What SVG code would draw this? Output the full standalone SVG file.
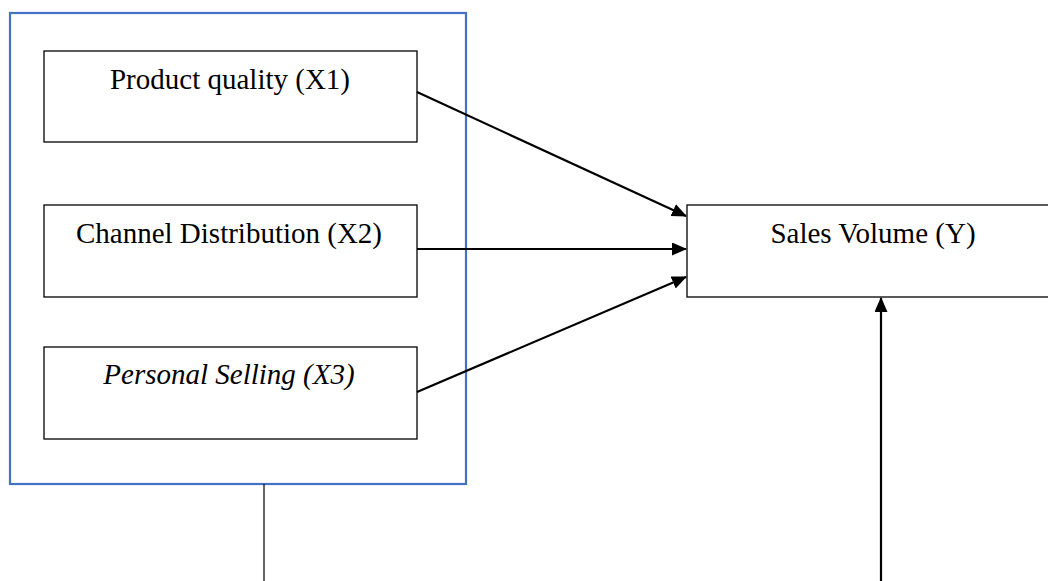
<svg xmlns="http://www.w3.org/2000/svg" width="1048" height="581" viewBox="0 0 1048 581">
<style>
.box{fill:#fff;stroke:#000;stroke-width:1.3}
.lbl{font-family:"Liberation Serif","Times New Roman",serif;font-size:29px;fill:#000;text-anchor:middle}
.con{stroke:#000;stroke-width:2.2;fill:none}
</style>
<defs>
<marker id="ah" viewBox="0 0 15 13" refX="14" refY="6.5" markerWidth="15" markerHeight="13" markerUnits="userSpaceOnUse" orient="auto">
<path d="M0,0 L15,6.5 L0,13 Z" fill="#000"/>
</marker>
</defs>
<rect width="1048" height="581" fill="#fff"/>
<g id="group-x">
<rect x="10" y="13" width="456" height="471" fill="none" stroke="#4472C4" stroke-width="2.2"/>
</g>
<g id="x1">
<rect class="box" x="44" y="51" width="373" height="91"/>
<text class="lbl" x="230" y="89">Product quality (X1)</text>
</g>
<g id="x2">
<rect class="box" x="44" y="205" width="373" height="92"/>
<text class="lbl" x="229" y="243" font-size="28">Channel Distribution (X2)</text>
</g>
<g id="x3">
<rect class="box" x="44" y="347" width="373" height="92"/>
<text class="lbl" x="229" y="384" font-style="italic">Personal Selling (X3)</text>
</g>
<g id="y">
<rect class="box" x="687" y="205" width="380" height="92"/>
<text class="lbl" x="873" y="243">Sales Volume (Y)</text>
</g>
<g id="connectors">
<line class="con" x1="417" y1="92" x2="686" y2="216" marker-end="url(#ah)"/>
<line class="con" x1="417" y1="249" x2="686" y2="249" marker-end="url(#ah)"/>
<line class="con" x1="417" y1="392" x2="686" y2="277" marker-end="url(#ah)"/>
<line x1="264" y1="484" x2="264" y2="581" stroke="#000" stroke-width="1.2"/>
<line class="con" x1="881" y1="581" x2="881" y2="298" marker-end="url(#ah)"/>
</g>
</svg>
